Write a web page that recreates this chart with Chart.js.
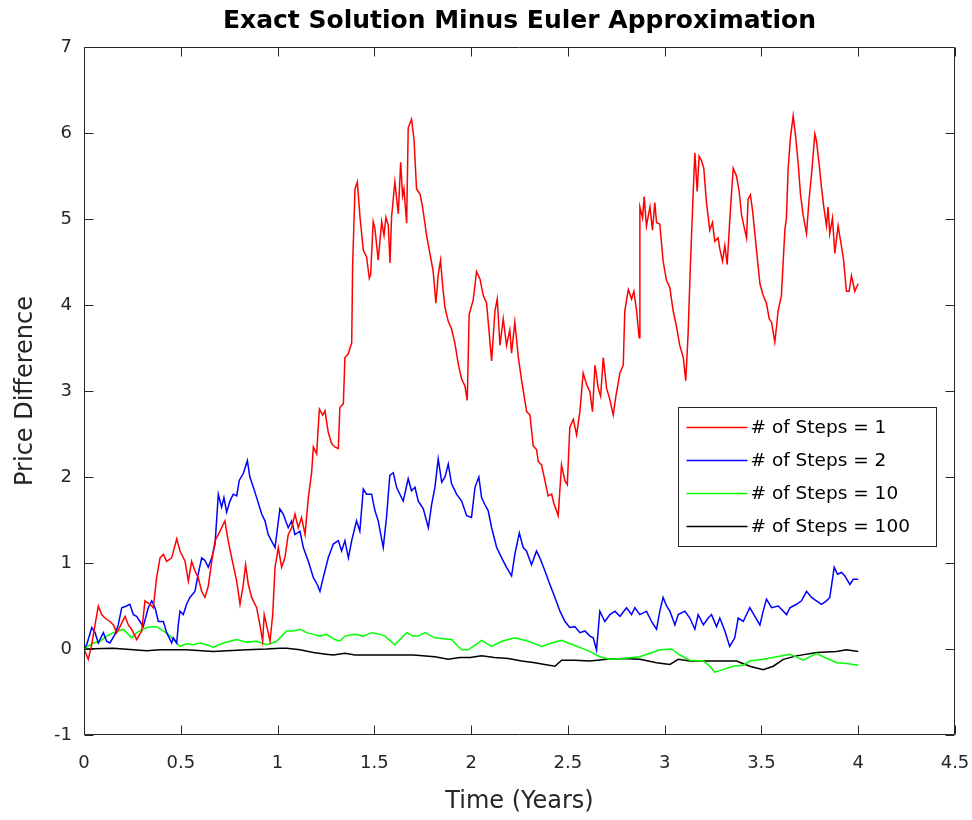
<!DOCTYPE html>
<html>
<head>
<meta charset="utf-8">
<title>Exact Solution Minus Euler Approximation</title>
<script src="https://cdn.jsdelivr.net/npm/chart.js@4.4.1/dist/chart.umd.min.js"></script>
<style>
	html, body { margin: 0; padding: 0; background: #fff; overflow: hidden; }
	#chart { display: block; }
</style>
</head>
<body>
<canvas id="chart" width="972" height="820"></canvas>
<script>
// values: [time (years), price difference]
const steps1 = [[0,0],[0.022,-0.12],[0.04,0.05],[0.057,0.28],[0.074,0.5],[0.091,0.4],[0.108,0.36],[0.134,0.32],[0.152,0.28],[0.169,0.19],[0.186,0.26],[0.212,0.38],[0.229,0.28],[0.246,0.23],[0.272,0.11],[0.298,0.21],[0.315,0.56],[0.341,0.52],[0.358,0.48],[0.375,0.83],[0.393,1.06],[0.41,1.1],[0.427,1.02],[0.453,1.06],[0.479,1.28],[0.496,1.14],[0.522,1.02],[0.539,0.79],[0.556,1.02],[0.573,0.91],[0.59,0.83],[0.608,0.67],[0.625,0.6],[0.642,0.73],[0.66,1.02],[0.677,1.26],[0.694,1.33],[0.711,1.41],[0.728,1.49],[0.745,1.26],[0.763,1.06],[0.789,0.79],[0.806,0.52],[0.823,0.75],[0.835,0.98],[0.849,0.75],[0.866,0.6],[0.892,0.48],[0.909,0.28],[0.923,0.09],[0.931,0.4],[0.943,0.28],[0.961,0.09],[0.975,0.4],[0.987,0.95],[1.004,1.18],[1.021,0.95],[1.038,1.06],[1.055,1.33],[1.073,1.41],[1.09,1.57],[1.107,1.41],[1.124,1.53],[1.142,1.33],[1.159,1.76],[1.176,2.05],[1.185,2.35],[1.202,2.27],[1.216,2.79],[1.233,2.72],[1.245,2.77],[1.262,2.52],[1.279,2.39],[1.296,2.35],[1.314,2.33],[1.322,2.81],[1.34,2.85],[1.348,3.39],[1.365,3.43],[1.383,3.56],[1.388,4.47],[1.4,5.35],[1.412,5.43],[1.426,5.02],[1.443,4.64],[1.46,4.56],[1.474,4.31],[1.481,4.35],[1.494,4.97],[1.503,4.89],[1.52,4.52],[1.538,4.97],[1.55,4.81],[1.56,5.02],[1.572,4.93],[1.581,4.49],[1.589,5.02],[1.606,5.43],[1.624,5.06],[1.636,5.66],[1.646,5.27],[1.653,5.35],[1.667,4.95],[1.675,6.06],[1.692,6.16],[1.705,5.93],[1.718,5.35],[1.736,5.29],[1.749,5.14],[1.77,4.81],[1.787,4.6],[1.804,4.39],[1.818,4.02],[1.83,4.35],[1.842,4.52],[1.853,4.22],[1.865,3.97],[1.882,3.81],[1.899,3.72],[1.916,3.56],[1.934,3.31],[1.951,3.14],[1.968,3.06],[1.98,2.89],[1.99,3.89],[2.011,4.06],[2.028,4.39],[2.046,4.3],[2.063,4.11],[2.08,4.02],[2.106,3.35],[2.123,3.93],[2.135,4.07],[2.149,3.53],[2.166,3.84],[2.183,3.53],[2.2,3.71],[2.209,3.44],[2.226,3.8],[2.244,3.39],[2.261,3.12],[2.287,2.76],[2.304,2.72],[2.321,2.36],[2.338,2.32],[2.347,2.18],[2.364,2.14],[2.381,1.96],[2.398,1.78],[2.416,1.8],[2.428,1.69],[2.45,1.55],[2.467,2.14],[2.484,1.96],[2.497,1.91],[2.51,2.58],[2.528,2.67],[2.545,2.49],[2.562,2.76],[2.579,3.21],[2.596,3.08],[2.614,2.99],[2.627,2.76],[2.64,3.3],[2.657,3.03],[2.669,2.94],[2.683,3.39],[2.7,3.03],[2.717,2.9],[2.734,2.72],[2.748,2.94],[2.769,3.21],[2.786,3.3],[2.794,3.93],[2.812,4.18],[2.829,4.07],[2.841,4.16],[2.855,3.93],[2.868,3.62],[2.872,5.14],[2.886,5.01],[2.894,5.26],[2.906,4.92],[2.924,5.14],[2.937,4.87],[2.949,5.19],[2.958,4.96],[2.975,4.94],[2.992,4.51],[3.009,4.29],[3.027,4.2],[3.044,3.93],[3.061,3.75],[3.078,3.53],[3.096,3.39],[3.109,3.12],[3.121,3.66],[3.133,4.47],[3.147,5.28],[3.156,5.77],[3.168,5.32],[3.178,5.73],[3.19,5.68],[3.202,5.59],[3.216,5.19],[3.233,4.87],[3.247,4.96],[3.259,4.74],[3.276,4.78],[3.285,4.65],[3.299,4.51],[3.311,4.69],[3.323,4.47],[3.337,5.01],[3.354,5.59],[3.371,5.5],[3.385,5.32],[3.397,5.05],[3.414,4.87],[3.423,4.78],[3.431,5.23],[3.443,5.28],[3.454,5.1],[3.474,4.65],[3.492,4.25],[3.509,4.11],[3.526,4.02],[3.54,3.84],[3.552,3.8],[3.569,3.57],[3.578,3.75],[3.586,3.93],[3.603,4.11],[3.621,4.87],[3.629,5.01],[3.638,5.59],[3.65,5.95],[3.664,6.2],[3.677,5.95],[3.69,5.64],[3.702,5.28],[3.715,5.05],[3.733,4.83],[3.746,5.23],[3.758,5.5],[3.776,5.99],[3.784,5.91],[3.798,5.64],[3.81,5.37],[3.822,5.14],[3.836,4.92],[3.844,5.14],[3.853,4.83],[3.867,5.01],[3.879,4.6],[3.896,4.92],[3.913,4.69],[3.925,4.51],[3.939,4.16],[3.953,4.16],[3.965,4.34],[3.974,4.25],[3.982,4.16],[4,4.25]];

const steps2 = [[0,0],[0.014,0.05],[0.04,0.25],[0.057,0.19],[0.074,0.07],[0.1,0.19],[0.117,0.09],[0.134,0.07],[0.16,0.17],[0.177,0.28],[0.195,0.48],[0.22,0.5],[0.237,0.52],[0.255,0.4],[0.272,0.38],[0.289,0.32],[0.306,0.26],[0.332,0.48],[0.35,0.56],[0.367,0.48],[0.384,0.32],[0.41,0.32],[0.427,0.19],[0.453,0.07],[0.461,0.13],[0.479,0.07],[0.487,0.28],[0.496,0.44],[0.513,0.4],[0.53,0.52],[0.547,0.6],[0.573,0.67],[0.59,0.87],[0.608,1.06],[0.625,1.03],[0.642,0.95],[0.66,1.06],[0.677,1.22],[0.694,1.8],[0.711,1.65],[0.723,1.76],[0.737,1.59],[0.754,1.72],[0.771,1.8],[0.789,1.78],[0.802,1.96],[0.823,2.04],[0.844,2.19],[0.857,2],[0.875,1.88],[0.892,1.76],[0.918,1.57],[0.935,1.49],[0.952,1.33],[0.987,1.18],[1.012,1.63],[1.029,1.57],[1.055,1.41],[1.073,1.49],[1.09,1.33],[1.116,1.37],[1.133,1.18],[1.159,1.02],[1.185,0.83],[1.205,0.75],[1.219,0.67],[1.236,0.83],[1.262,1.06],[1.288,1.22],[1.314,1.26],[1.331,1.14],[1.348,1.26],[1.366,1.06],[1.383,1.26],[1.408,1.49],[1.425,1.37],[1.443,1.86],[1.46,1.8],[1.486,1.8],[1.503,1.61],[1.52,1.49],[1.546,1.18],[1.563,1.53],[1.58,2.02],[1.598,2.05],[1.615,1.88],[1.632,1.8],[1.649,1.72],[1.675,1.98],[1.692,1.84],[1.71,1.88],[1.727,1.72],[1.753,1.63],[1.779,1.41],[1.796,1.68],[1.813,1.88],[1.83,2.21],[1.848,1.94],[1.865,2],[1.882,2.15],[1.899,1.92],[1.925,1.8],[1.951,1.72],[1.977,1.55],[2.002,1.53],[2.02,1.88],[2.04,2],[2.054,1.76],[2.071,1.68],[2.088,1.61],[2.106,1.41],[2.132,1.18],[2.158,1.06],[2.183,0.95],[2.209,0.85],[2.226,1.1],[2.249,1.35],[2.269,1.18],[2.286,1.14],[2.312,0.98],[2.338,1.14],[2.355,1.06],[2.381,0.91],[2.407,0.75],[2.433,0.6],[2.459,0.44],[2.485,0.32],[2.51,0.25],[2.536,0.26],[2.562,0.19],[2.588,0.21],[2.614,0.15],[2.631,0.13],[2.648,-0.01],[2.665,0.44],[2.691,0.32],[2.717,0.4],[2.743,0.44],[2.769,0.38],[2.803,0.48],[2.829,0.4],[2.846,0.48],[2.872,0.4],[2.906,0.44],[2.932,0.32],[2.958,0.23],[2.975,0.44],[2.992,0.6],[3.01,0.5],[3.027,0.44],[3.053,0.28],[3.07,0.4],[3.104,0.44],[3.13,0.36],[3.156,0.23],[3.173,0.4],[3.2,0.28],[3.225,0.36],[3.242,0.4],[3.268,0.26],[3.285,0.36],[3.311,0.21],[3.336,0.03],[3.362,0.13],[3.38,0.36],[3.406,0.32],[3.44,0.48],[3.466,0.38],[3.492,0.28],[3.509,0.44],[3.526,0.58],[3.552,0.48],[3.587,0.5],[3.63,0.4],[3.647,0.48],[3.681,0.52],[3.707,0.56],[3.733,0.67],[3.759,0.6],[3.784,0.56],[3.81,0.52],[3.836,0.56],[3.853,0.6],[3.876,0.95],[3.893,0.87],[3.914,0.89],[3.931,0.85],[3.957,0.75],[3.974,0.81],[4,0.81]];

const steps10 = [[0,0],[0.048,0.07],[0.083,0.09],[0.117,0.15],[0.152,0.19],[0.203,0.23],[0.246,0.13],[0.272,0.19],[0.324,0.25],[0.358,0.26],[0.375,0.26],[0.41,0.21],[0.436,0.17],[0.461,0.11],[0.496,0.03],[0.53,0.06],[0.565,0.05],[0.599,0.07],[0.634,0.05],[0.668,0.02],[0.72,0.07],[0.754,0.09],[0.789,0.11],[0.84,0.08],[0.892,0.09],[0.944,0.05],[0.995,0.09],[1.047,0.21],[1.082,0.21],[1.116,0.23],[1.15,0.19],[1.185,0.17],[1.219,0.15],[1.253,0.17],[1.296,0.11],[1.322,0.09],[1.348,0.15],[1.4,0.17],[1.443,0.15],[1.486,0.19],[1.529,0.17],[1.555,0.15],[1.58,0.1],[1.606,0.05],[1.632,0.11],[1.667,0.19],[1.701,0.15],[1.727,0.15],[1.762,0.19],[1.813,0.13],[1.857,0.12],[1.9,0.11],[1.925,0.05],[1.951,-0.01],[1.985,-0.01],[2.037,0.07],[2.054,0.1],[2.106,0.03],[2.158,0.09],[2.192,0.11],[2.227,0.13],[2.261,0.11],[2.296,0.09],[2.33,0.06],[2.364,0.03],[2.416,0.07],[2.468,0.1],[2.502,0.07],[2.536,0.04],[2.571,0.01],[2.614,-0.03],[2.665,-0.09],[2.717,-0.12],[2.786,-0.11],[2.829,-0.1],[2.872,-0.09],[2.923,-0.05],[2.975,-0.01],[3.035,0],[3.078,-0.07],[3.13,-0.13],[3.2,-0.14],[3.233,-0.2],[3.259,-0.27],[3.302,-0.24],[3.354,-0.2],[3.406,-0.19],[3.44,-0.14],[3.509,-0.12],[3.578,-0.09],[3.647,-0.06],[3.716,-0.13],[3.785,-0.05],[3.819,-0.09],[3.888,-0.16],[3.94,-0.17],[4,-0.19]];

const steps100 = [[0,0],[0.15,0.01],[0.255,-0.01],[0.324,-0.02],[0.393,-0.01],[0.496,-0.01],[0.53,-0.01],[0.668,-0.03],[0.74,-0.02],[0.84,-0.01],[0.944,0],[1.012,0.01],[1.047,0.01],[1.116,-0.01],[1.185,-0.04],[1.25,-0.06],[1.288,-0.07],[1.348,-0.05],[1.4,-0.07],[1.46,-0.07],[1.563,-0.07],[1.641,-0.07],[1.701,-0.07],[1.813,-0.09],[1.882,-0.12],[1.942,-0.1],[1.995,-0.1],[2.054,-0.08],[2.12,-0.1],[2.192,-0.11],[2.261,-0.14],[2.33,-0.16],[2.38,-0.18],[2.433,-0.2],[2.468,-0.13],[2.536,-0.13],[2.614,-0.14],[2.7,-0.12],[2.786,-0.11],[2.872,-0.12],[2.958,-0.16],[3.027,-0.18],[3.07,-0.12],[3.13,-0.14],[3.216,-0.14],[3.3,-0.14],[3.371,-0.14],[3.44,-0.2],[3.509,-0.24],[3.561,-0.2],[3.613,-0.12],[3.681,-0.08],[3.785,-0.04],[3.888,-0.03],[3.94,-0.01],[4,-0.03]];

const seriesLabels = ['# of Steps = 1', '# of Steps = 2', '# of Steps = 10', '# of Steps = 100'];
const seriesColors = ['#ff0000', '#0000ff', '#00ff00', '#000000'];
const xTicks = [0, 0.5, 1, 1.5, 2, 2.5, 3, 3.5, 4, 4.5];
const yTicks = [-1, 0, 1, 2, 3, 4, 5, 6, 7];

const FONT = '"DejaVu Sans", "Liberation Sans", Arial, sans-serif';
const AXIS = '#262626';

// matlab style box with inward ticks on all four sides
const axesBox = {
	id: 'axesBox',
	afterDatasetsDraw(chart) {
		const { ctx, chartArea: a, scales: { x, y } } = chart;
		const L = Math.round(a.left) + 0.5, R = Math.round(a.right) - 0.5,
			T = Math.round(a.top) + 0.5, B = Math.round(a.bottom) - 0.5,
			len = 9;
		ctx.save();
		ctx.strokeStyle = AXIS;
		ctx.lineWidth = 1;
		ctx.beginPath();
		ctx.rect(L, T, R - L, B - T);
		xTicks.forEach(v => {
			const px = Math.round(x.getPixelForValue(v)) + 0.5;
			ctx.moveTo(px, B); ctx.lineTo(px, B - len);
			ctx.moveTo(px, T); ctx.lineTo(px, T + len);
		});
		yTicks.forEach(v => {
			const py = Math.round(y.getPixelForValue(v)) + 0.5;
			ctx.moveTo(L, py); ctx.lineTo(L + len, py);
			ctx.moveTo(R, py); ctx.lineTo(R - len, py);
		});
		ctx.stroke();
		ctx.restore();
	}
};

// title over the plot box + legend box in the lower right
const decor = {
	id: 'decor',
	afterDraw(chart) {
		const { ctx, chartArea: a } = chart;
		ctx.save();
		ctx.fillStyle = '#000';
		ctx.font = 'bold 25px ' + FONT;
		ctx.textAlign = 'center';
		ctx.textBaseline = 'middle';
		ctx.fillText('Exact Solution Minus Euler Approximation', (a.left + a.right) / 2, 21);

		const bx = 678.5, by = 407.5, bw = 258, bh = 139, rowH = 33;
		ctx.fillStyle = '#fff';
		ctx.fillRect(bx, by, bw, bh);
		ctx.strokeStyle = AXIS;
		ctx.lineWidth = 1;
		ctx.strokeRect(bx, by, bw, bh);
		ctx.font = '18.5px ' + FONT;
		ctx.textAlign = 'left';
		chart.data.datasets.forEach((ds, i) => {
			const cy = by + 20 + i * rowH;
			ctx.strokeStyle = ds.borderColor;
			ctx.lineWidth = 1.4;
			ctx.beginPath();
			ctx.moveTo(bx + 8, cy);
			ctx.lineTo(bx + 69, cy);
			ctx.stroke();
			ctx.fillStyle = '#000';
			ctx.fillText(ds.label, bx + 72, cy + 1);
		});
		ctx.restore();
	}
};

const datasets = [steps1, steps2, steps10, steps100].map((pts, i) => ({
	label: seriesLabels[i],
	data: pts.map(([x, y]) => ({ x, y })),
	borderColor: seriesColors[i],
	backgroundColor: seriesColors[i],
	borderWidth: 1.5,
	pointRadius: 0,
	tension: 0,
	fill: false
}));

new Chart(document.getElementById('chart'), {
	type: 'line',
	data: { datasets },
	options: {
		responsive: false,
		animation: false,
		devicePixelRatio: 1,
		layout: { padding: { top: 47, right: 17, left: 0, bottom: 0 } },
		plugins: {
			legend: { display: false },
			tooltip: { enabled: false },
			title: { display: false }
		},
		scales: {
			x: {
				type: 'linear',
				min: 0,
				max: 4.5,
				afterBuildTicks: s => { s.ticks = xTicks.map(value => ({ value })); },
				// fixed band under the box, no extra side padding for the end labels
				afterFit: s => { s.height = 85; s.paddingLeft = 0; s.paddingRight = 0; },
				grid: { display: false, drawTicks: false },
				border: { display: false },
				ticks: {
					color: AXIS,
					padding: 18,
					maxRotation: 0,
					font: { family: FONT, size: 18 },
					callback: v => String(+v.toFixed(2))
				},
				title: {
					display: true,
					text: 'Time (Years)',
					color: AXIS,
					font: { family: FONT, size: 24 },
					padding: { top: 0, bottom: 4 }
				}
			},
			y: {
				min: -1,
				max: 7,
				afterBuildTicks: s => { s.ticks = yTicks.map(value => ({ value })); },
				afterFit: s => { s.width = 84; s.paddingTop = 0; s.paddingBottom = 0; },
				grid: { display: false, drawTicks: false },
				border: { display: false },
				ticks: {
					color: AXIS,
					padding: 12,
					font: { family: FONT, size: 18 },
					callback: v => String(v)
				},
				title: {
					display: true,
					text: 'Price Difference',
					color: AXIS,
					font: { family: FONT, size: 24 },
					padding: { top: 11, bottom: 0 }
				}
			}
		}
	},
	plugins: [axesBox, decor]
});
</script>
</body>
</html>
